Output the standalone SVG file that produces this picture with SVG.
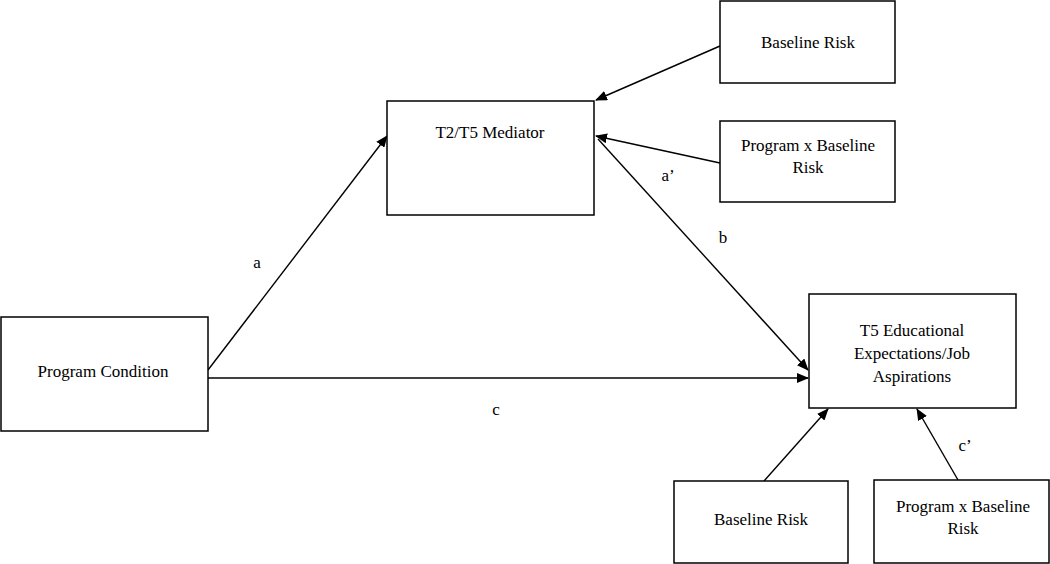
<svg xmlns="http://www.w3.org/2000/svg" width="1050" height="564" viewBox="0 0 1050 564">
<style>
.box{fill:#fff;stroke:#000;stroke-width:1.5}
.t{font-family:"Liberation Serif","Times New Roman",serif;font-size:17px;fill:#000;text-anchor:middle;dominant-baseline:central}
.c{stroke:#000;stroke-width:1.4;fill:none;marker-end:url(#ah)}
</style>
<defs>
<marker id="ah" markerWidth="12" markerHeight="10" refX="11" refY="5" orient="auto" markerUnits="userSpaceOnUse">
<path d="M0,0 L12,5 L0,10 Z" fill="#000"/>
</marker>
</defs>
<rect width="1050" height="564" fill="#fff"/>
<g id="connectors">
<line class="c" x1="208" y1="370" x2="387" y2="136"/>
<line class="c" x1="208" y1="378" x2="808" y2="378"/>
<line class="c" x1="720" y1="46" x2="596" y2="100"/>
<line class="c" x1="720" y1="163" x2="596" y2="136"/>
<line class="c" x1="598" y1="139" x2="808" y2="370"/>
<line class="c" x1="764" y1="481" x2="828" y2="409"/>
<line class="c" x1="958" y1="480" x2="917" y2="409"/>
<text class="t" x="257" y="262">a</text>
<text class="t" x="668" y="175">a’</text>
<text class="t" x="723" y="237">b</text>
<text class="t" x="496" y="409">c</text>
<text class="t" x="965" y="445">c’</text>
</g>
<g id="program-condition">
<rect class="box" x="1" y="317" width="207" height="114"/>
<text class="t" x="103" y="371">Program Condition</text>
</g>
<g id="mediator">
<rect class="box" x="387" y="101" width="207" height="114"/>
<text class="t" x="490" y="132">T2/T5 Mediator</text>
</g>
<g id="baseline-risk-top">
<rect class="box" x="720" y="1" width="175" height="82"/>
<text class="t" x="808" y="42">Baseline Risk</text>
</g>
<g id="program-x-baseline-top">
<rect class="box" x="720" y="121" width="175" height="81"/>
<text class="t" x="808" y="145">Program x Baseline</text>
<text class="t" x="808" y="167">Risk</text>
</g>
<g id="outcome">
<rect class="box" x="809" y="294" width="207" height="114"/>
<text class="t" x="912" y="330">T5 Educational</text>
<text class="t" x="912" y="353">Expectations/Job</text>
<text class="t" x="912" y="376">Aspirations</text>
</g>
<g id="baseline-risk-bottom">
<rect class="box" x="674" y="481" width="174" height="82"/>
<text class="t" x="761" y="519">Baseline Risk</text>
</g>
<g id="program-x-baseline-bottom">
<rect class="box" x="874" y="480" width="175" height="83"/>
<text class="t" x="963" y="506">Program x Baseline</text>
<text class="t" x="963" y="528">Risk</text>
</g>
</svg>
